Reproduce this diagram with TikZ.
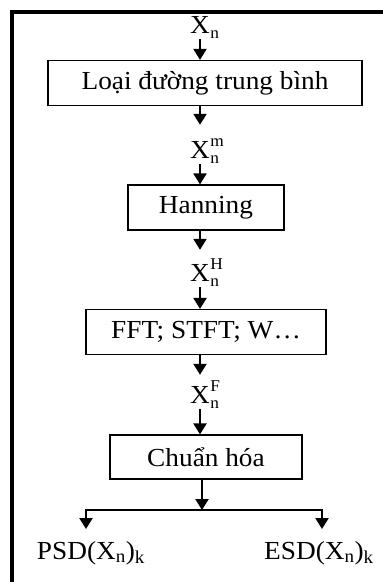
\documentclass[tikz,border=0pt]{standalone}
\usepackage{fontspec}
\setmainfont{Liberation Serif}[FakeStretch=1.05]
\usetikzlibrary{arrows.meta}
\newcommand{\mainsz}{\fontsize{26}{28}\selectfont}
\newcommand{\scsz}{\fontsize{16.5}{17}\selectfont}
\newcommand{\Xsub}[1]{X\rlap{\kern0.5pt\raisebox{-5pt}{\scsz n}}\rlap{\kern0.5pt\raisebox{12pt}{\scsz #1}}}
\newcommand{\Xn}{X\rlap{\kern0.5pt\raisebox{-5pt}{\scsz n}}}
\begin{document}
\begin{tikzpicture}[x=1pt,y=-1pt,font=\mainsz,
  box/.style={draw,line width=1.2pt,minimum height=45pt,minimum width=#1,inner sep=0pt},
  lbl/.style={inner sep=0pt,anchor=base,text height=15pt,text depth=6pt},
  arr/.style={line width=2.2pt,-{Triangle[width=13pt,length=11pt]}},
  wire/.style={line width=2.2pt}]
\useasboundingbox (0,0) rectangle (383,582);
\draw[line width=4pt,line join=miter] (12,590) -- (12,12) -- (390,12);
% labels and boxes
\node[lbl] (x0) at (200,33) {\Xn};
\node[box=314pt] (b1) at (205,83) {Loại đường trung bình};
\node[lbl] (x1) at (200,158) {\Xsub{m}};
\node[box=156pt] (b2) at (206,207.5) {Hanning};
\node[lbl] (x2) at (200,281) {\Xsub{H}};
\node[box=240pt] (b3) at (206,332) {FFT; STFT; W…};
\node[lbl] (x3) at (200,403) {\Xsub{F}};
\node[box=192pt,minimum height=44pt] (b4) at (206,457) {Chuẩn hóa};
\coordinate (sp) at (202,510);
\coordinate (sl) at (86,510);
\coordinate (sr) at (322,510);
\coordinate (tl) at (86,529);
\coordinate (tr) at (322,529);
\node[lbl,text depth=5pt] (psd) at (91,559) {PSD(X\textsubscript{n})\textsubscript{k}};
\node[lbl,text depth=5pt] (esd) at (319,559) {ESD(X\textsubscript{n})\textsubscript{k}};
% connectors
\draw[arr] (x0.south) -- (x0.south |- b1.north);
\draw[arr,shorten >=18pt] (b1.south -| x1.north) -- (x1.north);
\draw[arr] (x1.south) -- (x1.south |- b2.north);
\draw[arr,shorten >=16pt] (b2.south -| x2.north) -- (x2.north);
\draw[arr] (x2.south) -- (x2.south |- b3.north);
\draw[arr,shorten >=13pt] (b3.south -| x3.north) -- (x3.north);
\draw[arr] (x3.south) -- (x3.south |- b4.north);
\draw[arr] (b4.south -| sp) -- (sp);
\draw[wire,line cap=rect] (sl) -- (sr);
\draw[arr] (sl) -- (tl);
\draw[arr] (sr) -- (tr);
\end{tikzpicture}
\end{document}
